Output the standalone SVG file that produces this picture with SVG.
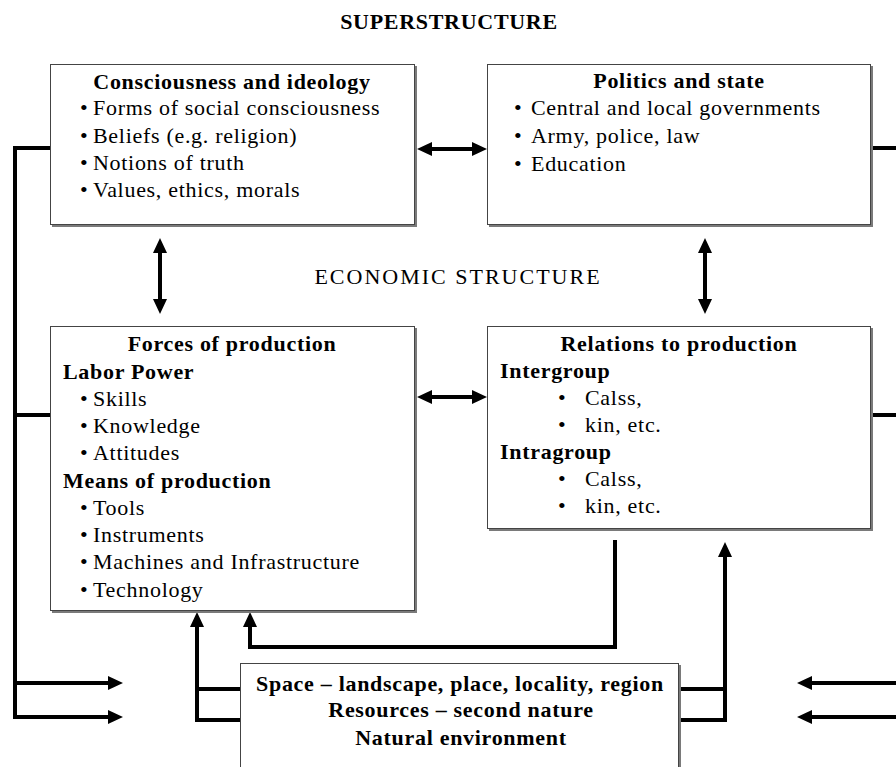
<svg xmlns="http://www.w3.org/2000/svg" width="896" height="767" viewBox="0 0 896 767">
<style>
text{font-family:"Liberation Serif","Times New Roman",serif;font-size:22px;letter-spacing:0.7px;fill:#000}
.b{font-weight:bold}
.c{text-anchor:middle}
.hd{font-size:22px}
.wide{letter-spacing:2px}
.box{fill:#fff;stroke:#444;stroke-width:1}
.sh{fill:#7a7a7a}
.ln{fill:none;stroke:#000;stroke-width:4}
.ar{marker-end:url(#ah)}
.dar{marker-start:url(#ah);marker-end:url(#ah)}
</style>
<defs>
<marker id="ah" viewBox="0 0 15 14" refX="5" refY="7" markerWidth="15" markerHeight="14" markerUnits="userSpaceOnUse" orient="auto-start-reverse">
<path d="M0,0 L15,7 L0,14 z" fill="#000"/>
</marker>
</defs>
<rect width="896" height="767" fill="#fff"/>
<text class="b c hd" x="449" y="29">SUPERSTRUCTURE</text>
<text class="c hd wide" x="458" y="284">ECONOMIC STRUCTURE</text>
<g id="connectors">
<path class="ln dar" d="M427,149 H477"/>
<path class="ln dar" d="M427,397 H477"/>
<path class="ln dar" d="M160,248 V304"/>
<path class="ln dar" d="M705,248 V304"/>
<path class="ln" d="M50,148 H15 V717"/>
<path class="ln" d="M15,415 H50"/>
<path class="ln ar" d="M13,683 H113"/>
<path class="ln ar" d="M13,717 H113"/>
<path class="ln" d="M871,148 H896"/>
<path class="ln" d="M871,415 H896"/>
<path class="ln ar" d="M896,683 H807"/>
<path class="ln ar" d="M896,717 H807"/>
<path class="ln" d="M240,689 H197"/>
<path class="ln ar" d="M240,720 H197 V622"/>
<path class="ln ar" d="M615,540 V647 H250 V622"/>
<path class="ln" d="M679,689 H725"/>
<path class="ln ar" d="M679,720 H725 V552"/>
</g>
<g id="consciousness">
<rect class="sh" x="52" y="66" width="365" height="161"/>
<rect class="box" x="50.5" y="64.5" width="364" height="160"/>
<text class="b c" x="232" y="89">Consciousness and ideology</text>
<text y="115"><tspan x="80">•</tspan><tspan x="93">Forms of social consciousness</tspan></text>
<text y="143"><tspan x="80">•</tspan><tspan x="93">Beliefs (e.g. religion)</tspan></text>
<text y="170"><tspan x="80">•</tspan><tspan x="93">Notions of truth</tspan></text>
<text y="197"><tspan x="80">•</tspan><tspan x="93">Values, ethics, morals</tspan></text>
</g>
<g id="politics">
<rect class="sh" x="489" y="66" width="384" height="161"/>
<rect class="box" x="487.5" y="64.5" width="383" height="160"/>
<text class="b c" x="679" y="88">Politics and state</text>
<text y="115"><tspan x="514">•</tspan><tspan x="531">Central and local governments</tspan></text>
<text y="143"><tspan x="514">•</tspan><tspan x="531">Army, police, law</tspan></text>
<text y="171"><tspan x="514">•</tspan><tspan x="531">Education</tspan></text>
</g>
<g id="forces">
<rect class="sh" x="52" y="328" width="365" height="285"/>
<rect class="box" x="50.5" y="326.5" width="364" height="284"/>
<text class="b c" x="232" y="351">Forces of production</text>
<text class="b" x="63" y="379">Labor Power</text>
<text y="406"><tspan x="80">•</tspan><tspan x="93">Skills</tspan></text>
<text y="433"><tspan x="80">•</tspan><tspan x="93">Knowledge</tspan></text>
<text y="460"><tspan x="80">•</tspan><tspan x="93">Attitudes</tspan></text>
<text class="b" x="63" y="488">Means of production</text>
<text y="515"><tspan x="80">•</tspan><tspan x="93">Tools</tspan></text>
<text y="542"><tspan x="80">•</tspan><tspan x="93">Instruments</tspan></text>
<text y="569"><tspan x="80">•</tspan><tspan x="93">Machines and Infrastructure</tspan></text>
<text y="597"><tspan x="80">•</tspan><tspan x="93">Technology</tspan></text>
</g>
<g id="relations">
<rect class="sh" x="489" y="328" width="384" height="203"/>
<rect class="box" x="487.5" y="326.5" width="383" height="202"/>
<text class="b c" x="679" y="351">Relations to production</text>
<text class="b" x="500" y="378">Intergroup</text>
<text y="405"><tspan x="558">•</tspan><tspan x="585">Calss,</tspan></text>
<text y="432"><tspan x="558">•</tspan><tspan x="585">kin, etc.</tspan></text>
<text class="b" x="500" y="459">Intragroup</text>
<text y="486"><tspan x="558">•</tspan><tspan x="585">Calss,</tspan></text>
<text y="513"><tspan x="558">•</tspan><tspan x="585">kin, etc.</tspan></text>
</g>
<g id="environment">
<rect class="sh" x="242" y="665" width="439" height="110"/>
<rect class="box" x="240.5" y="663.5" width="438" height="110"/>
<text class="b c" x="460" y="691">Space – landscape, place, locality, region</text>
<text class="b c" x="461" y="717">Resources – second nature</text>
<text class="b c" x="461" y="745">Natural environment</text>
</g>
</svg>
